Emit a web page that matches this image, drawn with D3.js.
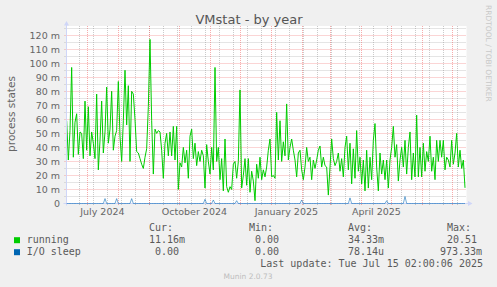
<!DOCTYPE html>
<html>
<head>
<meta charset="utf-8">
<script src="https://cdn.jsdelivr.net/npm/d3@7"></script>
<style>
	html, body { margin: 0; padding: 0; background: #F0F0F0; }
	svg { display: block; }
	text { fill: #666666; }
	.axisText { font-family: "DejaVu Sans", sans-serif; font-size: 9.5px; }
	.legend { font-family: "DejaVu Sans Mono", monospace; font-size: 10px; fill: #5a5a5a; }
</style>
</head>
<body>
<svg id="chart" width="497" height="287"></svg>
<script>

// running processes, 40h samples starting 2024-06-10 (in milli)
var running = [
	59, 31, 52, 97, 33, 58, 64, 35, 51, 50, 32, 73, 38, 69, 34, 51, 43, 32, 78, 24,
	45, 73, 36, 51, 83, 43, 53, 80, 38, 48, 52, 87, 48, 30, 59, 95, 56, 84, 30, 80,
	78, 60, 37, 36, 32, 28, 25, 33, 39, 69, 117, 59, 21, 53, 50, 52, 51, 38, 18, 43,
	50, 34, 51, 34, 55, 31, 55, 10, 29, 26, 40, 29, 38, 18, 48, 53, 32, 43, 27, 37,
	30, 38, 34, 11, 42, 30, 21, 40, 24, 97, 30, 40, 17, 32, 9, 46, 12, 8, 12, 10,
	28, 30, 18, 30, 81, 11, 20, 32, 13, 32,
	8, 23, 16, 2, 28, 18, 33, 17, 24, 19, 26, 38, 46, 19, 20, 18, 65, 31, 59, 30,
	44, 34, 71, 31, 40, 46, 38, 31, 19, 36, 38, 24, 17, 26, 40, 30, 33, 17, 31, 25,
	31, 38, 41, 26, 33, 27, 26, 6, 26, 46, 32, 27, 30, 36, 23, 32, 19, 40, 48, 24,
	43, 14, 39, 18, 52, 23, 33, 14, 31, 9, 38, 11, 33, 17, 45, 57, 26, 9, 36, 21,
	31, 17, 31, 11, 31, 40, 55, 33, 42, 16, 31, 40, 26, 45, 21, 40, 51, 17, 36, 19,
	63, 19, 40, 19, 43, 23, 37, 30, 48, 23, 33, 17, 45, 30, 45, 33, 45, 24, 33, 31,
	26, 45, 28, 36, 50, 26, 38, 25, 31, 11.16
];

// I/O sleep, non-zero samples only (sample index, milli)
var ioSleepIdx = [23, 30, 39, 83, 88, 102, 141, 170, 192, 203];
var ioSleepVal = [3.5, 3.5, 3.5, 3, 2.5, 2, 2.5, 4, 2, 5];

var yTicks = [0, 10, 20, 30, 40, 50, 60, 70, 80, 90, 100, 110, 120];
var xLabels = ["July 2024", "October 2024", "January 2025", "April 2025"];

var seriesNames = ["running", "I/O sleep"];
var seriesColors = ["#00CC00", "#0066B3"];
var curVals = ["11.16m", " 0.00"];
var minVals = ["0.00", "0.00"];
var avgVals = ["34.33m", "78.14u"];
var maxVals = ["20.51", "973.33m"];

var lastUpdate = new Date(2025, 6, 15, 2, 0, 6),
	startTime = d3.timeDay.offset(lastUpdate, -400),
	firstSample = d3.timeHour.offset(startTime, 4),
	stepHours = 40;

var pLeft = 66.5,
	pRight = 466.5,
	pTop = 26,
	pBottom = 203.5,
	axisColor = "#CFD6F8";

var svg = d3.select("#chart");

var x = d3.scaleTime()
	.domain([startTime, lastUpdate])
	.range([pLeft, pRight]);

var y = d3.scaleLinear()
	.domain([0, 126.56])
	.range([pBottom, pTop]);

var ioMap = new Map();
ioSleepIdx.forEach(function (d, i) {
	ioMap.set(d, ioSleepVal[i]);
});

var runData = running.map(function (v, i) {
	return {t: d3.timeHour.offset(firstSample, i * stepHours), v: v};
});
var ioData = running.map(function (v, i) {
	return {t: d3.timeHour.offset(firstSample, i * stepHours), v: ioMap.get(i) || 0};
});

// canvas
svg.append("rect")
	.attr("x", pLeft)
	.attr("y", pTop)
	.attr("width", pRight - pLeft)
	.attr("height", pBottom - pTop)
	.attr("fill", "#FFFFFF");

var gridG = svg.append("g").attr("class", "grid");

// minor horizontal grid (5 m)
gridG.selectAll("line.hmin")
	.data(yTicks.map(function (d) { return d + 5; }))
	.enter()
	.append("line")
	.attr("x1", pLeft - 2)
	.attr("x2", pRight)
	.attr("y1", function (d) { return Math.round(y(d)) + 0.5; })
	.attr("y2", function (d) { return Math.round(y(d)) + 0.5; })
	.attr("stroke", "rgba(140,140,140,0.45)")
	.attr("stroke-dasharray", "1,1");

// biweekly vertical grid
gridG.selectAll("line.vmin")
	.data(d3.timeSunday.range(new Date(2024, 5, 23), lastUpdate, 2))
	.enter()
	.append("line")
	.attr("x1", function (d) { return Math.round(x(d)) + 0.5; })
	.attr("x2", function (d) { return Math.round(x(d)) + 0.5; })
	.attr("y1", pTop)
	.attr("y2", pBottom + 2)
	.attr("stroke", "rgba(140,140,140,0.45)")
	.attr("stroke-dasharray", "1,1");

// major horizontal grid (10 m)
gridG.selectAll("line.hmaj")
	.data(yTicks.slice(1))
	.enter()
	.append("line")
	.attr("x1", pLeft - 2)
	.attr("x2", pRight)
	.attr("y1", function (d) { return Math.round(y(d)) + 0.5; })
	.attr("y2", function (d) { return Math.round(y(d)) + 0.5; })
	.attr("stroke", "rgba(240,90,90,0.5)")
	.attr("stroke-dasharray", "1,1");

// monthly vertical grid
gridG.selectAll("line.vmaj")
	.data(d3.timeMonth.range(startTime, lastUpdate))
	.enter()
	.append("line")
	.attr("x1", function (d) { return Math.round(x(d)) + 0.5; })
	.attr("x2", function (d) { return Math.round(x(d)) + 0.5; })
	.attr("y1", pTop)
	.attr("y2", pBottom + 2)
	.attr("stroke", "rgba(240,90,90,0.5)")
	.attr("stroke-dasharray", "1,1");

// series
var line = d3.line()
	.x(function (d) { return x(d.t); })
	.y(function (d) { return y(d.v); });

svg.append("path")
	.datum(runData)
	.attr("d", line)
	.attr("fill", "none")
	.attr("stroke", seriesColors[0])
	.attr("stroke-width", 1);

// axes
svg.append("line")
	.attr("x1", pLeft - 3)
	.attr("x2", pRight + 2)
	.attr("y1", pBottom)
	.attr("y2", pBottom)
	.attr("stroke", axisColor);

svg.append("line")
	.attr("x1", pLeft)
	.attr("x2", pLeft)
	.attr("y1", pBottom + 2)
	.attr("y2", pTop - 3)
	.attr("stroke", axisColor);

svg.append("path")
	.attr("d", "M" + (pLeft - 2.5) + "," + (pTop - 0.5) + "L" + pLeft + "," + (pTop - 5) + "L" + (pLeft + 2.5) + "," + (pTop - 0.5) + "Z")
	.attr("fill", axisColor);

svg.append("path")
	.attr("d", "M" + (pRight + 1.5) + "," + (pBottom - 2.5) + "L" + (pRight + 6) + "," + pBottom + "L" + (pRight + 1.5) + "," + (pBottom + 2.5) + "Z")
	.attr("fill", axisColor);

svg.append("path")
	.datum(ioData)
	.attr("d", line)
	.attr("fill", "none")
	.attr("stroke", seriesColors[1])
	.attr("stroke-opacity", 0.55)
	.attr("stroke-width", 1);

// y tick labels
svg.selectAll("text.ytick")
	.data(yTicks)
	.enter()
	.append("text")
	.attr("class", "axisText")
	.attr("text-anchor", "end")
	.attr("x", pLeft - 6.5)
	.attr("y", function (d) { return y(d); })
	.attr("dy", "0.35em")
	.text(function (d) { return d == 0 ? "0" : d + " m"; });

// x labels, centred mid-quarter-month
svg.selectAll("text.xtick")
	.data(d3.timeMonth.every(3).range(startTime, lastUpdate))
	.enter()
	.append("text")
	.attr("class", "axisText")
	.attr("text-anchor", "middle")
	.attr("x", function (d) { return x(d3.timeDay.offset(d, 15)); })
	.attr("y", 214.5)
	.text(function (d, i) { return xLabels[i]; });

// titles
svg.append("text")
	.attr("x", 249)
	.attr("y", 24)
	.attr("text-anchor", "middle")
	.style("font-family", "DejaVu Sans, sans-serif")
	.style("font-size", "13px")
	.style("fill", "#555")
	.text("VMstat - by year");

svg.append("text")
	.attr("text-anchor", "middle")
	.attr("transform", "translate(14.5,114) rotate(-90)")
	.style("font-family", "DejaVu Sans, sans-serif")
	.style("font-size", "10.5px")
	.text("process states");

svg.append("text")
	.attr("transform", "translate(485.5,5) rotate(90)")
	.style("font-family", "DejaVu Sans, sans-serif")
	.style("font-size", "7.5px")
	.style("fill", "#c8c8c8")
	.text("RRDTOOL / TOBI OETIKER");

// legend
var legendG = svg.append("g").attr("class", "legendG");

[["Cur:", 149], ["Min:", 249], ["Avg:", 348], ["Max:", 447]].forEach(function (h) {
	legendG.append("text")
		.attr("class", "legend")
		.attr("x", h[1])
		.attr("y", 230.7)
		.text(h[0]);
});

var rowG = legendG.selectAll("g.row")
	.data(seriesNames)
	.enter()
	.append("g")
	.attr("class", "row")
	.attr("transform", function (d, i) { return "translate(0," + (242.7 + i * 12) + ")"; });

rowG.append("rect")
	.attr("x", 14)
	.attr("y", -5.5)
	.attr("width", 6)
	.attr("height", 6)
	.attr("fill", function (d, i) { return seriesColors[i]; });

rowG.append("text")
	.attr("class", "legend")
	.attr("x", 26.7)
	.text(function (d) { return d; });

rowG.append("text")
	.attr("class", "legend")
	.attr("x", 149)
	.attr("xml:space", "preserve")
	.text(function (d, i) { return curVals[i]; });

rowG.append("text")
	.attr("class", "legend")
	.attr("x", 255)
	.text(function (d, i) { return minVals[i]; });

rowG.append("text")
	.attr("class", "legend")
	.attr("x", 348)
	.text(function (d, i) { return avgVals[i]; });

rowG.append("text")
	.attr("class", "legend")
	.attr("x", function (d, i) { return i == 0 ? 447 : 440; })
	.text(function (d, i) { return maxVals[i]; });

legendG.append("text")
	.attr("class", "legend")
	.attr("x", 483)
	.attr("y", 266.7)
	.attr("text-anchor", "end")
	.text("Last update: " + d3.timeFormat("%a %b %d %H:%M:%S %Y")(lastUpdate));

svg.append("text")
	.attr("x", 248)
	.attr("y", 279)
	.attr("text-anchor", "middle")
	.style("font-family", "DejaVu Sans, sans-serif")
	.style("font-size", "7.5px")
	.style("fill", "#bdbdbd")
	.text("Munin 2.0.73");

</script>
</body>
</html>
